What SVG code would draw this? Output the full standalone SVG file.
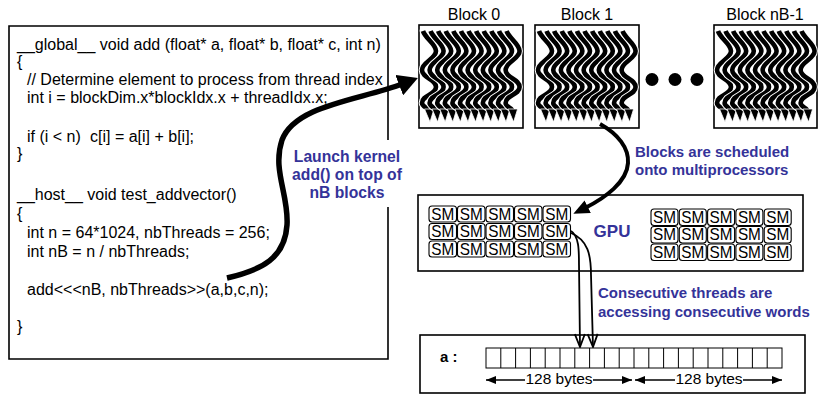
<svg xmlns="http://www.w3.org/2000/svg" width="821" height="399" viewBox="0 0 821 399">
<style>
.code{font-family:"Liberation Sans",Arial,sans-serif;font-size:16px;fill:#000}
.lbl{font-family:"Liberation Sans",Arial,sans-serif;font-size:16px;fill:#000;text-anchor:middle}
.blue{font-family:"Liberation Sans",Arial,sans-serif;font-weight:bold;font-size:15px;fill:#343399}
.box{fill:#fff;stroke:#000;stroke-width:1.6}
.sm{fill:#fff;stroke:#000;stroke-width:1.1}
.smt{font-family:"Liberation Sans",Arial,sans-serif;font-size:17px;fill:#000;text-anchor:middle}
.cell{fill:none;stroke:#000;stroke-width:1}
.bytes{font-family:"Liberation Sans",Arial,sans-serif;font-size:15.5px;fill:#000;text-anchor:middle}
</style>
<defs>
<marker id="bigHead" markerUnits="userSpaceOnUse" viewBox="0 0 20 22" refX="3" refY="11" markerWidth="20" markerHeight="22" orient="auto"><path d="M0,0 L20,11 L0,22 Z" fill="#000"/></marker>
<marker id="midHead" markerUnits="userSpaceOnUse" viewBox="0 0 16 14" refX="3" refY="7" markerWidth="16" markerHeight="14" orient="auto"><path d="M0,0 L16,7 L0,14 Z" fill="#000"/></marker>
<marker id="openHead" markerUnits="userSpaceOnUse" viewBox="-1 -1 15 12" refX="13" refY="5" markerWidth="15" markerHeight="12" orient="auto"><path d="M0,0 L13,5 L0,10" fill="none" stroke="#000" stroke-width="1.8"/></marker>
<marker id="smallHead" markerUnits="userSpaceOnUse" viewBox="0 0 10 8" refX="10" refY="4" markerWidth="10" markerHeight="8" orient="auto-start-reverse"><path d="M0,0 L10,4 L0,8 Z" fill="#000"/></marker>
<g id="thr">
<path d="M-6,31 C-4,38 7,44 7,51 C7,59 -7,62 -7,70 C-7,78 7,79 7,87 C7,95 -7,95 -7,103 C-7,107 0,108 0,111" fill="none" stroke="#fff" stroke-width="6.6" stroke-linecap="round"/>
<path d="M-6,31 C-4,38 7,44 7,51 C7,59 -7,62 -7,70 C-7,78 7,79 7,87 C7,95 -7,95 -7,103 C-7,107 0,108 0,111" fill="none" stroke="#000" stroke-width="4.6"/>
<path d="M-4.5,109 L5,109 L1,122 Z" fill="#000" stroke="#fff" stroke-width="0.8"/>
</g>
<g id="threads">
<use href="#thr" x="429"/><use href="#thr" x="436.6"/><use href="#thr" x="444.2"/><use href="#thr" x="451.8"/>
<use href="#thr" x="459.4"/><use href="#thr" x="467"/><use href="#thr" x="474.6"/><use href="#thr" x="482.2"/>
<use href="#thr" x="489.8"/><use href="#thr" x="497.4"/><use href="#thr" x="505"/><use href="#thr" x="512.6"/>
</g>
</defs>

<g id="code">
<path d="M388,140 V26 H9 V359 H388 V207" fill="none" stroke="#000" stroke-width="1.6"/>
<text class="code" x="17" y="50">__global__ void add (float* a, float* b, float* c, int n)</text>
<text class="code" x="17" y="67">{</text>
<text class="code" x="27" y="85">// Determine element to process from thread index</text>
<text class="code" x="27" y="103">int i = blockDim.x*blockIdx.x + threadIdx.x;</text>
<text class="code" x="27" y="142">if (i &lt; n)<tspan x="90">c[i] = a[i] + b[i];</tspan></text>
<text class="code" x="17" y="159">}</text>
<text class="code" x="17" y="200">__host__ void test_addvector()</text>
<text class="code" x="17" y="219">{</text>
<text class="code" x="27" y="238">int n = 64*1024, nbThreads = 256;</text>
<text class="code" x="27" y="257">int nB = n / nbThreads;</text>
<text class="code" x="27" y="295">add&lt;&lt;&lt;nB, nbThreads&gt;&gt;(a,b,c,n);</text>
<text class="code" x="17" y="332">}</text>
</g>

<g id="launch-label">
<text class="blue" style="font-size:15.7px" x="347" y="162" text-anchor="middle">Launch kernel</text>
<text class="blue" style="font-size:15.7px" x="347" y="180" text-anchor="middle">add() on top of</text>
<text class="blue" style="font-size:15.7px" x="347" y="198" text-anchor="middle">nB blocks</text>
</g>

<g id="block0">
<text class="lbl" x="474" y="20">Block 0</text>
<rect class="box" x="419" y="25" width="104" height="103"/>
<use href="#threads"/>
</g>
<g id="block1">
<text class="lbl" x="587" y="20">Block 1</text>
<rect class="box" x="535" y="25" width="104" height="103"/>
<use href="#threads" x="116"/>
</g>
<g id="dots">
<circle cx="652" cy="79.5" r="6.5" fill="#000"/>
<circle cx="675" cy="79.5" r="6.5" fill="#000"/>
<circle cx="697" cy="79.5" r="6.5" fill="#000"/>
</g>
<g id="blockN">
<text class="lbl" x="765" y="20">Block nB-1</text>
<rect class="box" x="714" y="25" width="103" height="103"/>
<use href="#threads" x="295"/>
</g>

<g id="sched-label">
<text class="blue" x="635" y="157">Blocks are scheduled</text>
<text class="blue" x="635" y="175">onto multiprocessors</text>
</g>

<g id="gpu">
<rect class="box" x="418" y="195" width="385" height="76"/>
<text class="blue" style="font-size:17px" x="612" y="237" text-anchor="middle">GPU</text>
<g id="sm-left">
<rect class="sm" x="429" y="206" width="27.5" height="16" rx="3"/><text class="smt" x="442.75" y="219.5" textLength="23" lengthAdjust="spacingAndGlyphs">SM</text>
<rect class="sm" x="457.5" y="206" width="27.5" height="16" rx="3"/><text class="smt" x="471.25" y="219.5" textLength="23" lengthAdjust="spacingAndGlyphs">SM</text>
<rect class="sm" x="486" y="206" width="27.5" height="16" rx="3"/><text class="smt" x="499.75" y="219.5" textLength="23" lengthAdjust="spacingAndGlyphs">SM</text>
<rect class="sm" x="514.5" y="206" width="27.5" height="16" rx="3"/><text class="smt" x="528.25" y="219.5" textLength="23" lengthAdjust="spacingAndGlyphs">SM</text>
<rect class="sm" x="543" y="206" width="27.5" height="16" rx="3"/><text class="smt" x="556.75" y="219.5" textLength="23" lengthAdjust="spacingAndGlyphs">SM</text>
<rect class="sm" x="429" y="223.5" width="27.5" height="16" rx="3"/><text class="smt" x="442.75" y="237" textLength="23" lengthAdjust="spacingAndGlyphs">SM</text>
<rect class="sm" x="457.5" y="223.5" width="27.5" height="16" rx="3"/><text class="smt" x="471.25" y="237" textLength="23" lengthAdjust="spacingAndGlyphs">SM</text>
<rect class="sm" x="486" y="223.5" width="27.5" height="16" rx="3"/><text class="smt" x="499.75" y="237" textLength="23" lengthAdjust="spacingAndGlyphs">SM</text>
<rect class="sm" x="514.5" y="223.5" width="27.5" height="16" rx="3"/><text class="smt" x="528.25" y="237" textLength="23" lengthAdjust="spacingAndGlyphs">SM</text>
<rect class="sm" x="543" y="223.5" width="27.5" height="16" rx="3"/><text class="smt" x="556.75" y="237" textLength="23" lengthAdjust="spacingAndGlyphs">SM</text>
<rect class="sm" x="429" y="241" width="27.5" height="16" rx="3"/><text class="smt" x="442.75" y="254.5" textLength="23" lengthAdjust="spacingAndGlyphs">SM</text>
<rect class="sm" x="457.5" y="241" width="27.5" height="16" rx="3"/><text class="smt" x="471.25" y="254.5" textLength="23" lengthAdjust="spacingAndGlyphs">SM</text>
<rect class="sm" x="486" y="241" width="27.5" height="16" rx="3"/><text class="smt" x="499.75" y="254.5" textLength="23" lengthAdjust="spacingAndGlyphs">SM</text>
<rect class="sm" x="514.5" y="241" width="27.5" height="16" rx="3"/><text class="smt" x="528.25" y="254.5" textLength="23" lengthAdjust="spacingAndGlyphs">SM</text>
<rect class="sm" x="543" y="241" width="27.5" height="16" rx="3"/><text class="smt" x="556.75" y="254.5" textLength="23" lengthAdjust="spacingAndGlyphs">SM</text>
</g>
<g id="sm-right">
<rect class="sm" x="651" y="209" width="27" height="16.5" rx="3"/><text class="smt" x="664.5" y="222.8" textLength="23" lengthAdjust="spacingAndGlyphs">SM</text>
<rect class="sm" x="679.3" y="209" width="27" height="16.5" rx="3"/><text class="smt" x="692.8" y="222.8" textLength="23" lengthAdjust="spacingAndGlyphs">SM</text>
<rect class="sm" x="707.6" y="209" width="27" height="16.5" rx="3"/><text class="smt" x="721.1" y="222.8" textLength="23" lengthAdjust="spacingAndGlyphs">SM</text>
<rect class="sm" x="735.9" y="209" width="27" height="16.5" rx="3"/><text class="smt" x="749.4" y="222.8" textLength="23" lengthAdjust="spacingAndGlyphs">SM</text>
<rect class="sm" x="764.2" y="209" width="27" height="16.5" rx="3"/><text class="smt" x="777.7" y="222.8" textLength="23" lengthAdjust="spacingAndGlyphs">SM</text>
<rect class="sm" x="651" y="226.5" width="27" height="16.5" rx="3"/><text class="smt" x="664.5" y="240.3" textLength="23" lengthAdjust="spacingAndGlyphs">SM</text>
<rect class="sm" x="679.3" y="226.5" width="27" height="16.5" rx="3"/><text class="smt" x="692.8" y="240.3" textLength="23" lengthAdjust="spacingAndGlyphs">SM</text>
<rect class="sm" x="707.6" y="226.5" width="27" height="16.5" rx="3"/><text class="smt" x="721.1" y="240.3" textLength="23" lengthAdjust="spacingAndGlyphs">SM</text>
<rect class="sm" x="735.9" y="226.5" width="27" height="16.5" rx="3"/><text class="smt" x="749.4" y="240.3" textLength="23" lengthAdjust="spacingAndGlyphs">SM</text>
<rect class="sm" x="764.2" y="226.5" width="27" height="16.5" rx="3"/><text class="smt" x="777.7" y="240.3" textLength="23" lengthAdjust="spacingAndGlyphs">SM</text>
<rect class="sm" x="651" y="244" width="27" height="16.5" rx="3"/><text class="smt" x="664.5" y="257.8" textLength="23" lengthAdjust="spacingAndGlyphs">SM</text>
<rect class="sm" x="679.3" y="244" width="27" height="16.5" rx="3"/><text class="smt" x="692.8" y="257.8" textLength="23" lengthAdjust="spacingAndGlyphs">SM</text>
<rect class="sm" x="707.6" y="244" width="27" height="16.5" rx="3"/><text class="smt" x="721.1" y="257.8" textLength="23" lengthAdjust="spacingAndGlyphs">SM</text>
<rect class="sm" x="735.9" y="244" width="27" height="16.5" rx="3"/><text class="smt" x="749.4" y="257.8" textLength="23" lengthAdjust="spacingAndGlyphs">SM</text>
<rect class="sm" x="764.2" y="244" width="27" height="16.5" rx="3"/><text class="smt" x="777.7" y="257.8" textLength="23" lengthAdjust="spacingAndGlyphs">SM</text>
</g>
</g>

<g id="access-label">
<text class="blue" x="598" y="298">Consecutive threads are</text>
<text class="blue" x="598" y="317">accessing consecutive words</text>
</g>

<g id="memory">
<rect class="box" x="420" y="335" width="385" height="58"/>
<text class="blue" style="fill:#000" x="440" y="362">a :</text>
<rect class="cell" x="486" y="348" width="296" height="20"/>
<path class="cell" d="M500.8,348v20M515.6,348v20M530.4,348v20M545.2,348v20M560,348v20M574.8,348v20M589.6,348v20M604.4,348v20M619.2,348v20M634,348v20M648.8,348v20M663.6,348v20M678.4,348v20M693.2,348v20M708,348v20M722.8,348v20M737.6,348v20M752.4,348v20M767.2,348v20"/>
<text class="bytes" x="559" y="384">128 bytes</text>
<text class="bytes" x="709" y="384">128 bytes</text>
</g>

<g id="connectors" fill="none" stroke="#000">
<path d="M227,278 C262,270 285,258 287,225 C289,195 272,170 282,140 C295,105 360,100 402,84" stroke-width="5.5" marker-end="url(#bigHead)"/>
<path d="M600,124 C618,134 629,148 628,163 C627,182 605,198 585,208" stroke-width="4" marker-end="url(#midHead)"/>
<path d="M571,231 C579,236 579,250 579,265 L580,347" stroke-width="1.8" marker-end="url(#openHead)"/>
<path d="M571,233 C588,240 591,255 591,275 L593,347" stroke-width="1.8" marker-end="url(#openHead)"/>
<path d="M486,380 H525" stroke-width="1.5" marker-start="url(#smallHead)"/>
<path d="M593,380 H632" stroke-width="1.5" marker-end="url(#smallHead)"/>
<path d="M635,380 H675" stroke-width="1.5" marker-start="url(#smallHead)"/>
<path d="M743,380 H782" stroke-width="1.5" marker-end="url(#smallHead)"/>
</g>
</svg>
